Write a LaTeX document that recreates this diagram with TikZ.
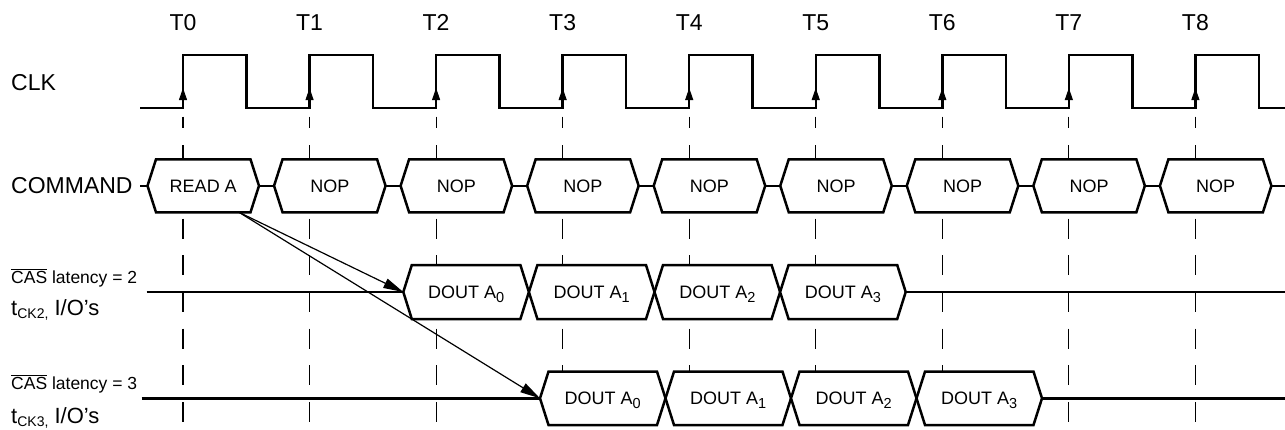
\documentclass[tikz,border=0pt]{standalone}
\usepackage{fontspec}
\setmainfont{Liberation Sans}
\usetikzlibrary{arrows.meta}

% lowered, smaller index text (A_0, CK2, ...)
\newcommand\lowsub[2][14.5]{\raisebox{-3.5pt}{\fontsize{#1}{#1}\selectfont #2}}
% text with a bar over it (active-low signal names)
\newcommand\ovbar[1]{\leavevmode\setbox0\hbox{#1}\rlap{\rule[\dimexpr\ht0+1.2pt\relax]{\wd0}{1pt}}\box0\relax}
% hexagonal bus-value box: left tip x, right tip x, mid y, half height, name, text
\newcommand\hexsig[6]{%
  \draw[sigline] (#1,#3) -- ({#1+8.5},{#3-#4}) -- ({#2-8.5},{#3-#4}) -- (#2,#3)
     -- ({#2-8.5},{#3+#4}) -- ({#1+8.5},{#3+#4}) -- cycle;
  \coordinate (#5-w) at (#1,#3);
  \coordinate (#5-e) at (#2,#3);
  \node[sigtext] (#5) at ({(#1+#2)/2},{#3+6.6}) {#6};
}

\begin{document}
\begin{tikzpicture}[x=1pt,y=-1pt,
  wave/.style={line width=2.5pt},
  sigline/.style={line width=2.5pt, fill=white},
  sigtext/.style={anchor=base, inner sep=0pt, font=\fontsize{18}{20}\selectfont},
  biglabel/.style={anchor=base west, inner sep=0pt, font=\fontsize{23}{26}\selectfont},
  ticklabel/.style={anchor=base, inner sep=0pt, font=\fontsize{23}{26}\selectfont},
  caslabel/.style={anchor=base west, inner sep=0pt, font=\fontsize{17.5}{20}\selectfont},
  iolabel/.style={anchor=base west, inner sep=0pt, font=\fontsize{22}{24}\selectfont},
  gridline/.style={line width=1.2pt, dash pattern=on 20pt off 16.7pt, dash phase=8.3pt},
  latency/.style={line width=1.2pt, -{Triangle[length=20pt,width=10pt]}},
  edgemark/.style={line width=1pt, -{Triangle[length=12pt,width=8pt]}}]

\useasboundingbox (0,0) rectangle (1285,429);

% dashed reference lines at every rising clock edge, with the edge names
\foreach \k in {0,...,8}{
  \pgfmathsetmacro\tx{183+126.55*\k}
  \coordinate (g\k-top) at (\tx,116.7);
  \coordinate (g\k-bot) at (\tx,429);
  \draw[gridline] (g\k-top) -- (g\k-bot);
  \node[ticklabel] (lab-T\k) at (\tx,30) {T\k};
}

% clock waveform
\draw[wave] (140,108)
  \foreach \k in {0,...,8}{
    -- ({183+126.55*\k},108) -- ({183+126.55*\k},55)
    -- ({246.5+126.55*\k},55) -- ({246.5+126.55*\k},108)
  } -- (1285,108);
\foreach \k in {0,...,8}
  \draw[edgemark] ({183+126.55*\k},106) -- ({183+126.55*\k},88);

% command bus
\foreach \k in {0,...,8}{
  \pgfmathsetmacro\tx{183+126.55*\k}
  \pgfmathsetmacro\xl{\tx-35.5}
  \pgfmathsetmacro\xr{\tx+76}
  \ifnum\k=0
    \hexsig{\xl}{\xr}{185.8}{26.5}{cmd\k}{READ A}
  \else
    \hexsig{\xl}{\xr}{185.8}{26.5}{cmd\k}{NOP}
  \fi
}
\coordinate (cmd-in) at (140,185.8);
\coordinate (cmd-out) at (1285,185.8);
\draw[wave] (cmd-in) -- (cmd0-w);
\foreach \k in {0,...,7}{
  \pgfmathtruncatemacro\nk{\k+1}
  \draw[wave] (cmd\k-e) -- (cmd\nk-w);
}
\draw[wave] (cmd8-e) -- (cmd-out);

% data out, CAS latency 2
\foreach \j in {0,...,3}{
  \pgfmathsetmacro\xl{403.3+125.6*\j}
  \pgfmathsetmacro\xr{\xl+125.6}
  \hexsig{\xl}{\xr}{292}{27}{dA\j}{DOUT A\lowsub{\j}}
}
\coordinate (l2-in) at (146.7,292);
\coordinate (l2-out) at (1285,292);
\draw[wave] (l2-in) -- (dA0-w);
\draw[wave] (dA3-e) -- (l2-out);

% data out, CAS latency 3
\foreach \j in {0,...,3}{
  \pgfmathsetmacro\xl{540+125.5*\j}
  \pgfmathsetmacro\xr{\xl+125.5}
  \hexsig{\xl}{\xr}{398.3}{26.7}{dB\j}{DOUT A\lowsub{\j}}
}
\coordinate (l3-in) at (141.7,398.3);
\coordinate (l3-out) at (1285,398.3);
\draw[wave] (l3-in) -- (dB0-w);
\draw[wave] (dB3-e) -- (l3-out);

% read-to-data latency arrows
\coordinate (rd-src) at (239,212.3);
\draw[latency] (rd-src) -- (dA0-w);
\draw[latency] (rd-src) -- (dB0-w);

% signal names
\node[biglabel] (lab-clk) at (11,90) {CLK};
\node[biglabel] (lab-cmd) at (11,193.3) {COMMAND};
\node[caslabel] (lab-cas2) at (11,283.3) {\ovbar{CAS} latency = 2};
\node[iolabel] (lab-io2) at (11,315) {t\lowsub[14]{CK2,} I/O’s};
\node[caslabel] (lab-cas3) at (11,389.3) {\ovbar{CAS} latency = 3};
\node[iolabel] (lab-io3) at (11,423.3) {t\lowsub[14]{CK3,} I/O’s};
\end{tikzpicture}
\end{document}
